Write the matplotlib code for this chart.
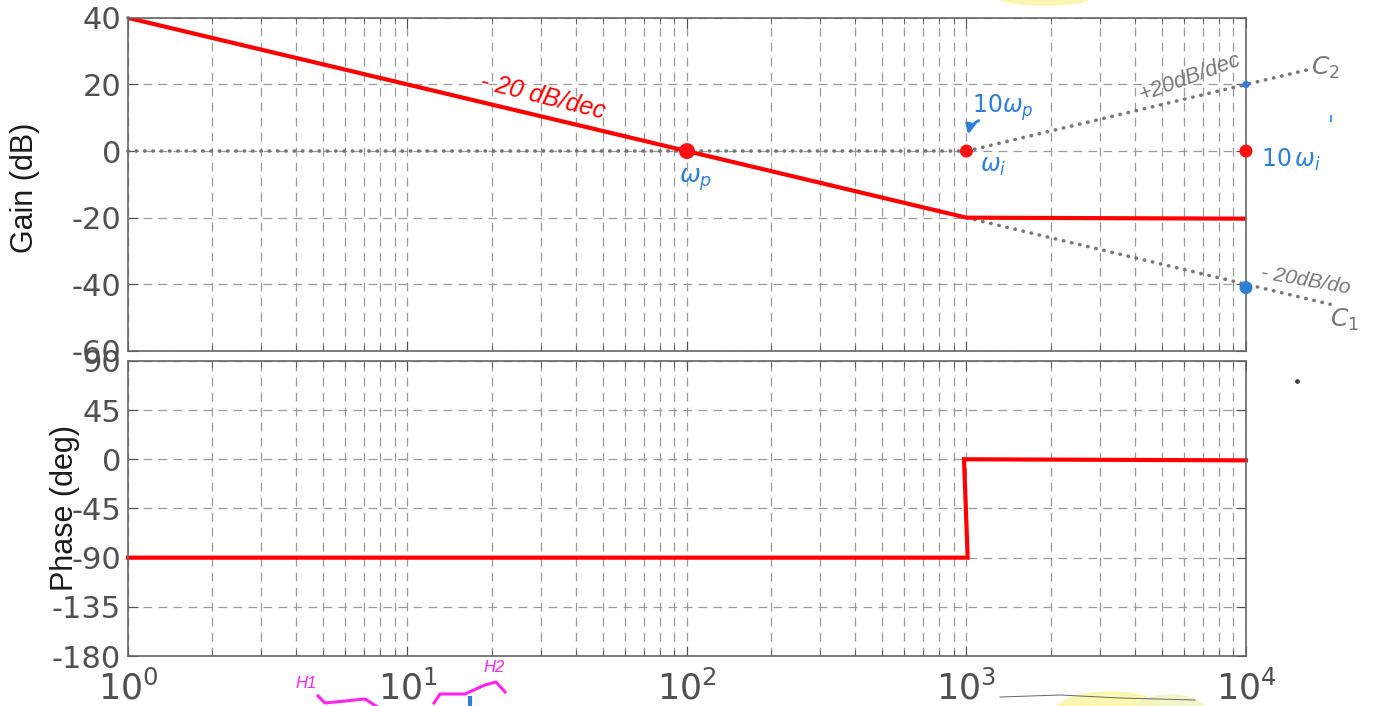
import numpy as np
import matplotlib.pyplot as plt
from matplotlib.patches import Ellipse, FancyArrowPatch
from matplotlib.ticker import LogLocator, NullFormatter

plt.rcParams['font.family'] = ['Liberation Sans', 'DejaVu Sans']
plt.rcParams['axes.unicode_minus'] = False

# -----------------------------
# Asymptotic Bode data
# -----------------------------
w_gain = [1, 1000, 10000]
gain_db = [40, -20, -20.3]

w_phase = [1, 1010, 980, 10000]
phase_deg = [-90, -90, 0, -1]

# construction lines (dotted)
w_slope = [1, 1000]
g_slope = [40, -20]
w_zero = [1, 1000]
g_zero = [0, 0]
w_c2 = [1000, 17000]
g_c2 = [0, 24.6]
w_c1 = [1000, 20000]
g_c1 = [-20, -46]

# marked points
w_red = [100, 1000, 10000]
g_red = [0, 0, 0]
w_blue = [10000, 10000]
g_blue = [20, -41]

gain_ticks = [-60, -40, -20, 0, 20, 40]
phase_ticks = [-180, -135, -90, -45, 0, 45, 90]
w_ticks = [1, 10, 100, 1000, 10000]
w_ticklabels = [r'$10^{0}$', r'$10^{1}$', r'$10^{2}$', r'$10^{3}$', r'$10^{4}$']

fig = plt.figure(figsize=(13.76, 7.06), dpi=100)
ax1 = fig.add_axes([0.093, 0.503, 0.8125, 0.4717])
ax2 = fig.add_axes([0.093, 0.0708, 0.8125, 0.418])

tick_col = '#505050'
grid_col = '#9a9a9a'


def style_axes(ax):
    ax.set_xscale('log')
    ax.set_xlim(1, 1e4)
    ax.xaxis.set_minor_locator(LogLocator(base=10, subs=np.arange(2, 10)))
    ax.xaxis.set_minor_formatter(NullFormatter())
    ax.grid(True, which='major', axis='both', color=grid_col,
            linestyle=(0, (7, 5)), linewidth=0.9)
    ax.grid(True, which='minor', axis='x', color=grid_col,
            linestyle=(0, (7, 5)), linewidth=0.9)
    ax.tick_params(which='both', direction='in', top=True, right=True,
                   colors=tick_col, labelsize=22, pad=5)
    ax.tick_params(which='major', length=7)
    ax.tick_params(which='minor', length=4)
    for s in ax.spines.values():
        s.set_color('#666666')
        s.set_linewidth(1.2)
    ax.set_axisbelow(True)


style_axes(ax1)
style_axes(ax2)

dot = dict(color='#777777', linestyle=(0, (0.1, 2.2)), linewidth=2.6,
           dash_capstyle='round', clip_on=False)

# gain plot
ax1.plot(w_slope, g_slope, **dot)
ax1.plot(w_zero, g_zero, **dot)
ax1.plot(w_c2, g_c2, **dot)
ax1.plot(w_c1, g_c1, **dot)
ax1.plot(w_gain, gain_db, color='#ff0000', linewidth=3, solid_capstyle='round')
ax1.scatter(w_red, g_red, s=[110, 70, 70], color='#ff1010', zorder=5, clip_on=False)
ax1.scatter(w_blue, g_blue, s=[18, 70], color='#2f7fd6', zorder=5, clip_on=False)
ax1.set_xlim(1, 1e4)
ax1.set_ylim(-60, 40)
ax1.set_yticks(gain_ticks)
ax1.set_yticklabels([str(v) for v in gain_ticks], family='DejaVu Sans')
ax1.set_xticks(w_ticks)
ax1.set_xticklabels([])
ax1.set_ylabel('Gain (dB)', fontsize=22, color='#1a1a1a')
ax1.yaxis.set_label_coords(-0.079, 0.49)

# handwritten notes on the gain plot
ax1.text(30.5, 16.2, '- 20 dB/dec', color='#ff0000', fontsize=18, rotation=-14,
         ha='center', va='center', fontstyle='italic')
ax1.text(107, -8.7, r'$\omega_p$', color='#2f7fd6', fontsize=18, ha='center', va='center')
ax1.text(1352, 12.9, r'$10\omega_p$', color='#2f7fd6', fontsize=17, ha='center', va='center')
ax1.text(1244, -4.8, r'$\omega_i$', color='#2f7fd6', fontsize=17, ha='center', va='center')
ax1.text(6310, 22, '+20dB/dec', color='#777777', fontsize=16, rotation=20,
         ha='center', va='center', fontstyle='italic')
ax1.text(19200, 25, r'$C_2$', color='#777777', fontsize=18, ha='center', va='center',
         clip_on=False)
ax1.text(14500, -2.7, r'$10\,\omega_i$', color='#2f7fd6', fontsize=17, ha='center',
         va='center', clip_on=False)
ax1.text(16300, -38.8, '- 20dB/do', color='#777777', fontsize=15, rotation=-10,
         ha='center', va='center', fontstyle='italic', clip_on=False)
ax1.text(22600, -50.8, r'$C_1$', color='#777777', fontsize=18, ha='center', va='center',
         clip_on=False)
ax1.add_patch(FancyArrowPatch((1130, 9.5), (1010, 4.2), arrowstyle='-|>', mutation_scale=14,
                              connectionstyle='arc3,rad=0.3', color='#2f7fd6', lw=2))

# phase plot
ax2.plot(w_phase, phase_deg, color='#ff0000', linewidth=3, solid_joinstyle='miter',
         clip_on=False)
ax2.set_xlim(1, 1e4)
ax2.set_ylim(-180, 90)
ax2.set_yticks(phase_ticks)
ax2.set_yticklabels([str(v) for v in phase_ticks], family='DejaVu Sans')
ax2.set_xticks(w_ticks)
ax2.set_xticklabels(w_ticklabels)
ax2.tick_params(axis='x', which='major', pad=10, labelsize=25)
ax2.set_ylabel('Phase (deg)', fontsize=22, color='#1a1a1a')
ax2.yaxis.set_label_coords(-0.043, 0.50)

# stray marks around the plot, figure pixel coordinates
ov = fig.add_axes([0, 0, 1, 1], zorder=10)
ov.set_xlim(0, 1376)
ov.set_ylim(706, 0)
ov.axis('off')
ov.patch.set_alpha(0)
ov.add_patch(Ellipse((1045, -2), 90, 14, color='#fbf6a0', alpha=0.8))
ov.add_patch(Ellipse((1110, 712), 110, 40, color='#fbf7a0', alpha=0.8))
ov.plot([1000, 1060, 1120, 1195], [697, 695, 698, 700], color='#666666', lw=0.7)
ov.add_patch(Ellipse((1170, 710), 70, 30, color='#f2f2c0', alpha=0.8))
ov.text(306, 684, 'H1', color='#ff22ee', fontsize=12, ha='center', va='center',
        fontstyle='italic')
ov.text(494, 667, 'H2', color='#ff22ee', fontsize=12, ha='center', va='center',
        fontstyle='italic')
ov.plot([318, 325, 345, 365, 376], [696, 703, 701, 699, 706], color='#ff22ee', lw=2.2)
ov.plot([434, 440, 465, 485, 496, 505], [703, 694, 694, 685, 682, 692], color='#ff22ee', lw=2.2)
ov.plot([470, 470], [698, 706], color='#2f7fd6', lw=3)
ov.scatter([1297], [381], s=6, color='#444444')
ov.plot([1331, 1331], [116, 121], color='#3fa0ff', lw=1.5)

fig.savefig('out.png', dpi=100)
